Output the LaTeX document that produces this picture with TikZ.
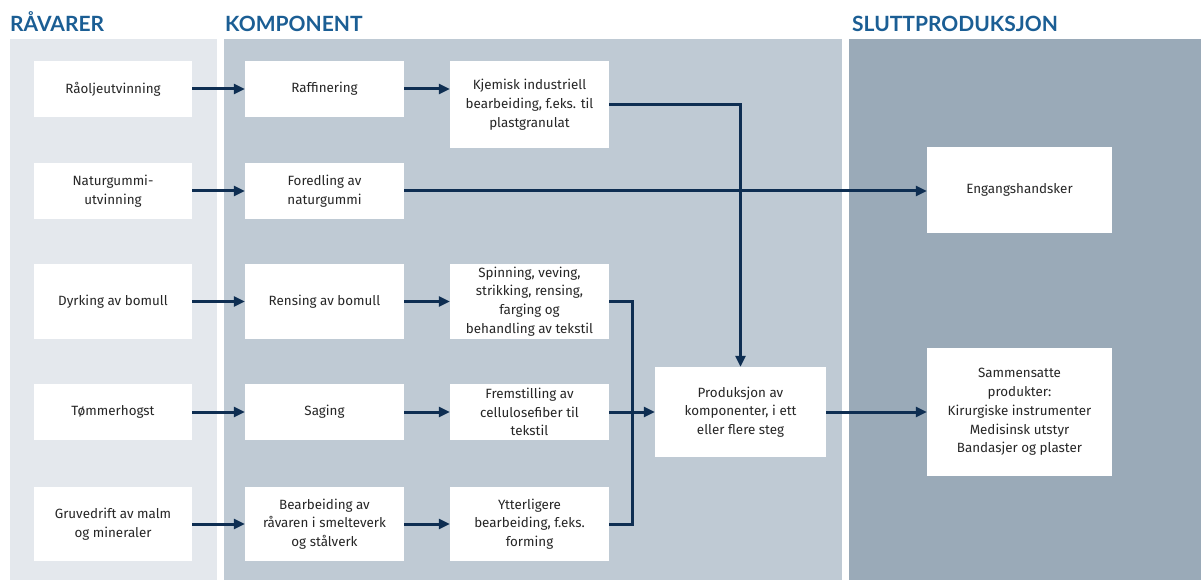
\documentclass[tikz,border=0pt]{standalone}
\usepackage{fontspec}
\setmainfont{Fira Sans}
\newfontfamily\headfont{Lato}
\usetikzlibrary{arrows.meta}

\definecolor{rawbg}{HTML}{E4E8ED}
\definecolor{compbg}{HTML}{BFCAD4}
\definecolor{finalbg}{HTML}{9AAAB8}
\definecolor{headblue}{HTML}{1B5E94}
\definecolor{flownavy}{HTML}{0E2E52}
\definecolor{textgray}{HTML}{262626}

\begin{document}
\begin{tikzpicture}[x=1pt,y=-1pt,
  every node/.style={font=\fontsize{13.4}{18.8}\selectfont,text=textgray},
  box/.style={fill=white,align=center,inner sep=2pt},
  head/.style={font=\headfont\bfseries\fontsize{21}{24}\selectfont,text=headblue,anchor=base west,inner sep=0pt},
  link/.style={line width=3pt,draw=flownavy},
  flow/.style={link,-{Triangle[length=11pt,width=10pt]}}]
  \useasboundingbox (0,0) rectangle (1201,580);
  % panels
  \fill[rawbg] (10,39) rectangle (217,580);
  \fill[compbg] (224,39) rectangle (842,580);
  \fill[finalbg] (849,39) rectangle (1201,580);
  \node[head] (hraw) at (10,32) {RÅVARER};
  \node[head] (hcomp) at (225,32) {KOMPONENT};
  \node[head] (hfinal) at (852,32) {SLUTTPRODUKSJON};

  % raavarer
  \node[box,minimum width=158pt,minimum height=56pt] (raaolje) at (113,89) {Råoljeutvinning};
  \node[box,minimum width=158pt,minimum height=56pt] (natur) at (113,191) {Naturgummi-\\utvinning};
  \node[box,minimum width=158pt,minimum height=75pt] (dyrk) at (113,301.5) {Dyrking av bomull};
  \node[box,minimum width=158pt,minimum height=56pt] (tomm) at (113,412) {Tømmerhogst};
  \node[box,minimum width=158pt,minimum height=74pt] (gruve) at (113,524) {Gruvedrift av malm\\og mineraler};

  % komponent
  \node[box,minimum width=159pt,minimum height=56pt] (raff) at (324.5,89) {Raffinering};
  \node[box,minimum width=159pt,minimum height=56pt] (fored) at (324.5,191) {Foredling av\\naturgummi};
  \node[box,minimum width=159pt,minimum height=75pt] (rens) at (324.5,301.5) {Rensing av bomull};
  \node[box,minimum width=159pt,minimum height=56pt] (sag) at (324.5,412) {Saging};
  \node[box,minimum width=159pt,minimum height=74pt] (bearb) at (324.5,524) {Bearbeiding av\\råvaren i smelteverk\\og stålverk};

  \node[box,minimum width=159pt,minimum height=87pt] (kjem) at (529.5,104.5) {Kjemisk industriell\\bearbeiding, f.eks. til\\plastgranulat};
  \node[box,minimum width=159pt,minimum height=75pt] (spinn) at (529.5,301.5) {Spinning, veving,\\strikking, rensing,\\farging og\\behandling av tekstil};
  \node[box,minimum width=159pt,minimum height=56pt] (frem) at (529.5,412) {Fremstilling av\\cellulosefiber til\\tekstil};
  \node[box,minimum width=159pt,minimum height=74pt] (ytter) at (529.5,524) {Ytterligere\\bearbeiding, f.eks.\\forming};

  \node[box,minimum width=171pt,minimum height=90pt] (prod) at (740.5,412) {Produksjon av\\komponenter, i ett\\eller flere steg};

  % sluttproduksjon
  \node[box,minimum width=185pt,minimum height=86pt] (enga) at (1019.5,190) {Engangshandsker};
  \node[box,minimum width=185pt,minimum height=128pt] (samm) at (1019.5,412) {Sammensatte\\produkter:\\Kirurgiske instrumenter\\Medisinsk utstyr\\Bandasjer og plaster};

  % arrows
  \foreach \a/\b in {raaolje/raff,natur/fored,dyrk/rens,tomm/sag,gruve/bearb,
                     rens/spinn,sag/frem,bearb/ytter,frem/prod,prod/samm}
    \draw[flow] (\a) -- (\b);
  \draw[flow] (raff.east) -- (raff.east -| kjem.west);
  \draw[flow] (fored.east) -- (fored.east -| enga.west);
  \draw[flow] (kjem.east) -| (prod.north);
  \coordinate (knee) at (632,412);
  \draw[link] (spinn.east) -| (knee |- ytter.east) -- (ytter.east);
\end{tikzpicture}
\end{document}
